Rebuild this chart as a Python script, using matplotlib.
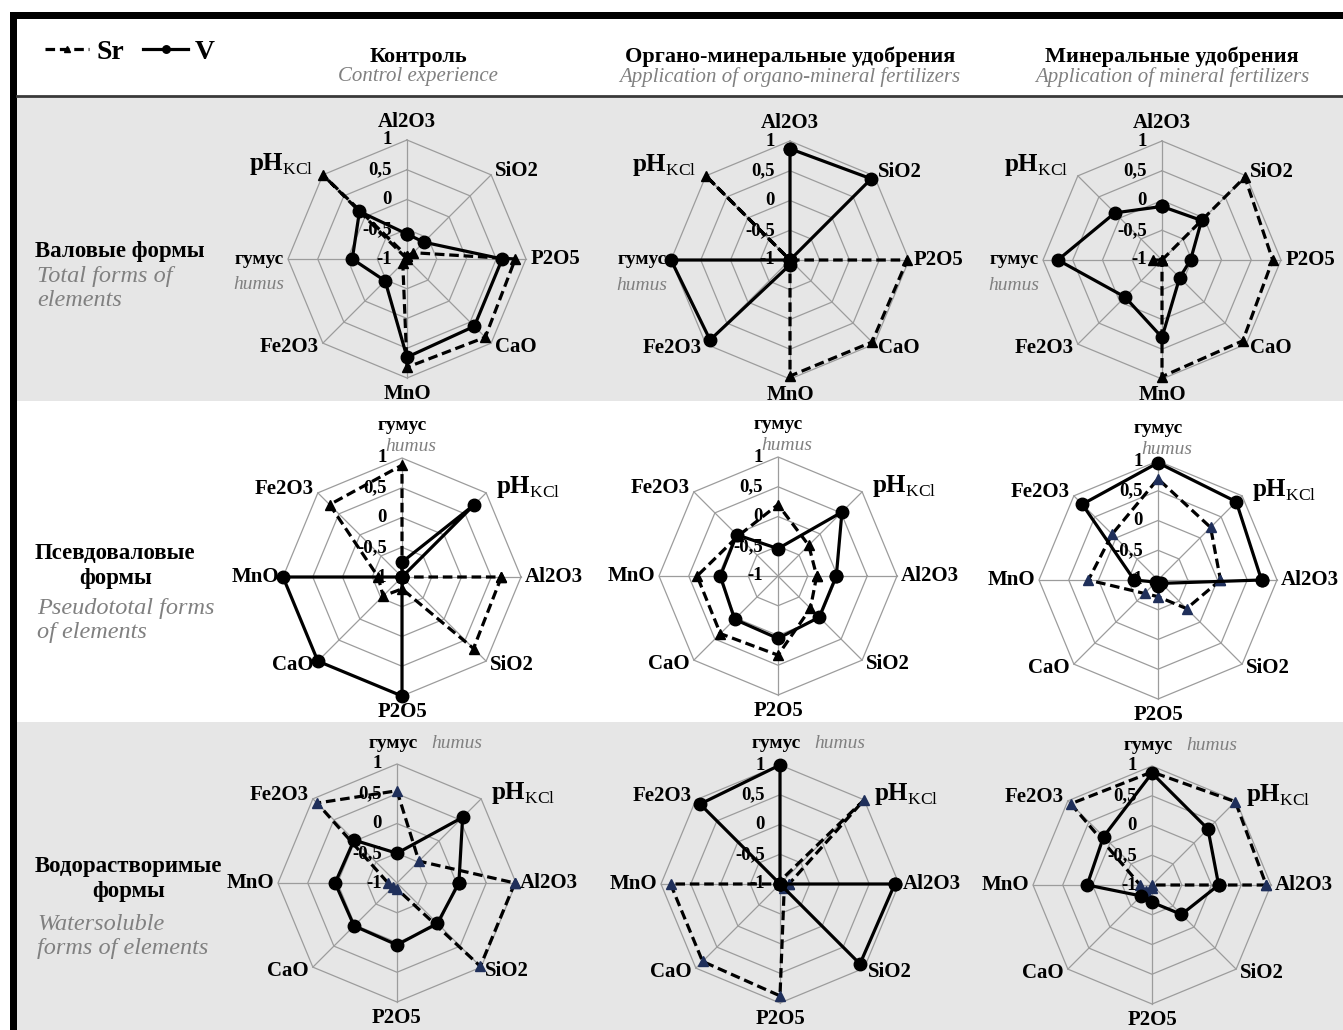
import numpy as np
import matplotlib.pyplot as plt
from matplotlib.patches import Rectangle

plt.rcParams['font.family'] = ['Liberation Serif', 'DejaVu Serif']
plt.rcParams['mathtext.fontset'] = 'custom'
plt.rcParams['mathtext.rm'] = 'Liberation Serif'
plt.rcParams['mathtext.bf'] = 'Liberation Serif:bold'

W, H = 1343, 1030

# radar axes, clockwise order (row 1 starts at Al2O3, rows 2-3 start at гумус)
categories = ['Al2O3', 'SiO2', 'P2O5', 'CaO', 'MnO', 'Fe2O3', 'гумус', 'pHKCl']
row_start = [0, 6, 6]
ring_values = [-1, -0.5, 0, 0.5, 1]
ring_labels = ['-1', '-0,5', '0', '0,5', '1']

col_titles_ru = ['Контроль', 'Органо-минеральные удобрения', 'Минеральные удобрения']
col_titles_en = ['Control experience', 'Application of organo-mineral fertilizers',
                 'Application of mineral fertilizers']
row_titles_ru = ['Валовые формы', 'Псевдоваловые\nформы', 'Водорастворимые\nформы']
row_titles_en = ['Total forms of\nelements', 'Pseudototal forms\nof elements',
                 'Watersoluble\nforms of elements']

# values in the order of `categories`: [control, organo-mineral, mineral]
v_total = [[-0.58, -0.6, 0.6, 0.6, 0.65, -0.48, -0.08, 0.13],
           [0.87, 0.93, -1.0, -1.0, -0.92, 0.9, 1.0, -1.0],
           [-0.1, -0.06, -0.52, -0.58, 0.3, -0.12, 0.75, 0.12]]
sr_total = [[-0.95, -0.85, 0.82, 0.86, 0.82, -0.9, -1.0, 1.0],
            [-1.0, -1.0, 0.97, 0.95, 0.95, -1.0, -1.0, 1.0],
            [-1.0, 0.97, 0.86, 0.92, 0.96, -1.0, -0.85, -1.0]]

v_pseudo = [[-1.0, -1.0, 1.0, 1.0, 1.0, -1.0, -0.75, 0.72],
            [-0.02, -0.02, 0.05, 0.03, -0.03, -0.02, -0.54, 0.52],
            [0.74, -0.92, -0.9, -0.95, -0.6, 0.8, 0.97, 0.86]]
sr_pseudo = [[0.67, 0.7, -0.8, -0.55, -0.6, 0.72, 0.88, -1.0],
             [-0.35, -0.23, 0.33, 0.37, 0.36, -0.05, 0.2, -0.27],
             [0.05, -0.32, -0.72, -0.68, 0.17, 0.09, 0.7, 0.25]]

v_water = [[0.04, -0.04, 0.04, 0.02, 0.04, 0.02, -0.5, 0.56],
           [0.93, 0.9, -1.0, -1.0, -1.0, 0.9, 1.0, -1.0],
           [0.12, -0.3, -0.71, -0.74, 0.09, 0.15, 0.88, 0.33]]
sr_water = [[0.98, 0.98, -0.9, -0.9, -0.85, 0.9, 0.55, -0.48],
            [-0.85, -0.9, 0.88, 0.84, 0.84, -1.0, -0.95, 1.0],
            [0.92, -1.0, -0.95, -0.85, -0.8, 0.93, 0.9, 0.98]]

v_rows = [v_total, v_pseudo, v_water]
sr_rows = [sr_total, sr_pseudo, sr_water]

# layout (pixels)
centers = [[(407, 259), (790, 260), (1162, 260)],
           [(402, 577), (778, 576), (1158, 580)],
           [(397, 883), (780, 884), (1152, 885)]]
R = 119
humus_mode = ['side', 'stack', 'inline']
tri_colors = [['black', 'black', 'black'],
              ['black', 'black', '#1f2f5a'],
              ['#1f2f5a', '#1f2f5a', '#1f2f5a']]
grid_color = '#9c9c9c'
gray_text = '#808080'


def draw_radar(ax, v_vals, sr_vals, start, mode, tri_color):
    n = len(categories)
    th = np.array([2 * np.pi * ((k - start) % n) / n for k in range(n)])
    th_c = np.append(th, th[0])
    for r in ring_values[1:]:
        ax.plot(th_c, [r] * (n + 1), color=grid_color, lw=0.9, clip_on=False, zorder=1)
    for t in th:
        ax.plot([t, t], [-1, 1], color=grid_color, lw=0.9, clip_on=False, zorder=1)
    sr_line, = ax.plot(th_c, np.append(sr_vals, sr_vals[0]), color='black', lw=2.3,
                       ls=(0, (3, 1.5)), marker='^', ms=7, mfc=tri_color, mec=tri_color,
                       clip_on=False, zorder=3)
    v_line, = ax.plot(th_c, np.append(v_vals, v_vals[0]), color='black', lw=2.3,
                      marker='o', ms=9, clip_on=False, zorder=4)
    ax.set_theta_zero_location('N')
    ax.set_theta_direction(-1)
    ax.set_ylim(-1, 1)
    ax.axis('off')

    for r, lbl in zip(ring_values, ring_labels):
        ax.annotate(lbl, xy=(0, r), xytext=(-11, 0), textcoords='offset points',
                    ha='right', va='center', fontsize=13.5, fontweight='bold',
                    annotation_clip=False, zorder=5)

    for k, name in enumerate(categories):
        a = th[k]
        sx, sy = np.sin(a), np.cos(a)
        if name == 'гумус':
            if mode == 'side':
                ax.annotate('гумус', xy=(a, 1), xytext=(-3, 0), textcoords='offset points',
                            ha='right', va='center', fontsize=14, fontweight='bold',
                            annotation_clip=False)
                ax.annotate('humus', xy=(a, 1), xytext=(-3, -12), textcoords='offset points',
                            ha='right', va='top', fontsize=14, style='italic',
                            color=gray_text, annotation_clip=False)
            elif mode == 'stack':
                ax.annotate('humus', xy=(a, 1), xytext=(6, 2), textcoords='offset points',
                            ha='center', va='bottom', fontsize=14, style='italic',
                            color=gray_text, annotation_clip=False)
                ax.annotate('гумус', xy=(a, 1), xytext=(0, 17), textcoords='offset points',
                            ha='center', va='bottom', fontsize=14, fontweight='bold',
                            annotation_clip=False)
            else:
                ax.annotate('гумус', xy=(a, 1), xytext=(-3, 9), textcoords='offset points',
                            ha='center', va='bottom', fontsize=14, fontweight='bold',
                            annotation_clip=False)
                ax.annotate('humus', xy=(a, 1), xytext=(25, 9), textcoords='offset points',
                            ha='left', va='bottom', fontsize=14, style='italic',
                            color=gray_text, annotation_clip=False)
            continue
        if name == 'pHKCl':
            txt = r'$\mathbf{pH}_{\mathrm{KCl}}$'
            if sx < 0:
                off, ha = (-7, 8), 'right'
            else:
                off, ha = (7, 4), 'left'
            ax.annotate(txt, xy=(a, 1), xytext=off, textcoords='offset points',
                        ha=ha, va='center', fontsize=18, annotation_clip=False)
            continue
        if abs(sx) < 0.3:
            ha, va = 'center', ('bottom' if sy > 0 else 'top')
            off = (0, 6 if sy > 0 else -4)
        else:
            ha = 'left' if sx > 0 else 'right'
            va = 'center'
            off = (3 * np.sign(sx), 3 * np.sign(sy) if abs(sy) > 0.3 else 0)
        ax.annotate(name, xy=(a, 1), xytext=off, textcoords='offset points',
                    ha=ha, va=va, fontsize=15, fontweight='bold', annotation_clip=False)
    return sr_line, v_line


fig = plt.figure(figsize=(W / 100, H / 100), dpi=100)

# background: frame, header and row bands
bg = fig.add_axes([0, 0, 1, 1])
bg.set_xlim(0, W)
bg.set_ylim(H, 0)
bg.axis('off')
bg.add_patch(Rectangle((17, 97), W - 17, 304, color='#e6e6e6', lw=0))
bg.add_patch(Rectangle((17, 722), W - 17, H - 722, color='#e6e6e6', lw=0))
bg.plot([17, W], [95.5, 95.5], color='#3a3a3a', lw=2)
bg.add_patch(Rectangle((10, 12), W - 10, 7, color='black', lw=0))
bg.add_patch(Rectangle((10, 12), 7, H - 12, color='black', lw=0))

col_x = [418, 790, 1172]
for x, ru, en in zip(col_x, col_titles_ru, col_titles_en):
    bg.text(x, 57, ru, ha='center', va='center', fontsize=16, fontweight='bold')
    bg.text(x, 77, en, ha='center', va='center', fontsize=15, style='italic', color=gray_text)

row_ru_y = [241, 543, 856]
row_en_y = [266, 598, 914]
for y1, y2, ru, en in zip(row_ru_y, row_en_y, row_titles_ru, row_titles_en):
    bg.text(35, y1, ru, ha='left', va='top', fontsize=16.5, fontweight='bold',
            multialignment='center', linespacing=1.25)
    bg.text(37, y2, en, ha='left', va='top', fontsize=17.5, style='italic',
            color=gray_text, linespacing=1.2)

handles = None
for i in range(3):
    for j in range(3):
        cx, cy = centers[i][j]
        ax = fig.add_axes([(cx - R) / W, (H - cy - R) / H, 2 * R / W, 2 * R / H],
                          projection='polar')
        ax.patch.set_alpha(0)
        h = draw_radar(ax, v_rows[i][j], sr_rows[i][j], row_start[i], humus_mode[i],
                       tri_colors[i][j])
        if handles is None:
            handles = h

fig.legend(handles, ['Sr', 'V'], loc='center left', bbox_to_anchor=(31 / W, 1 - 52 / H),
           ncol=2, frameon=False, prop={'weight': 'bold', 'size': 20}, borderpad=0,
           handlelength=1.6, columnspacing=0.7, handletextpad=0.25, markerscale=0.6)

fig.savefig('out.png', dpi=100)
